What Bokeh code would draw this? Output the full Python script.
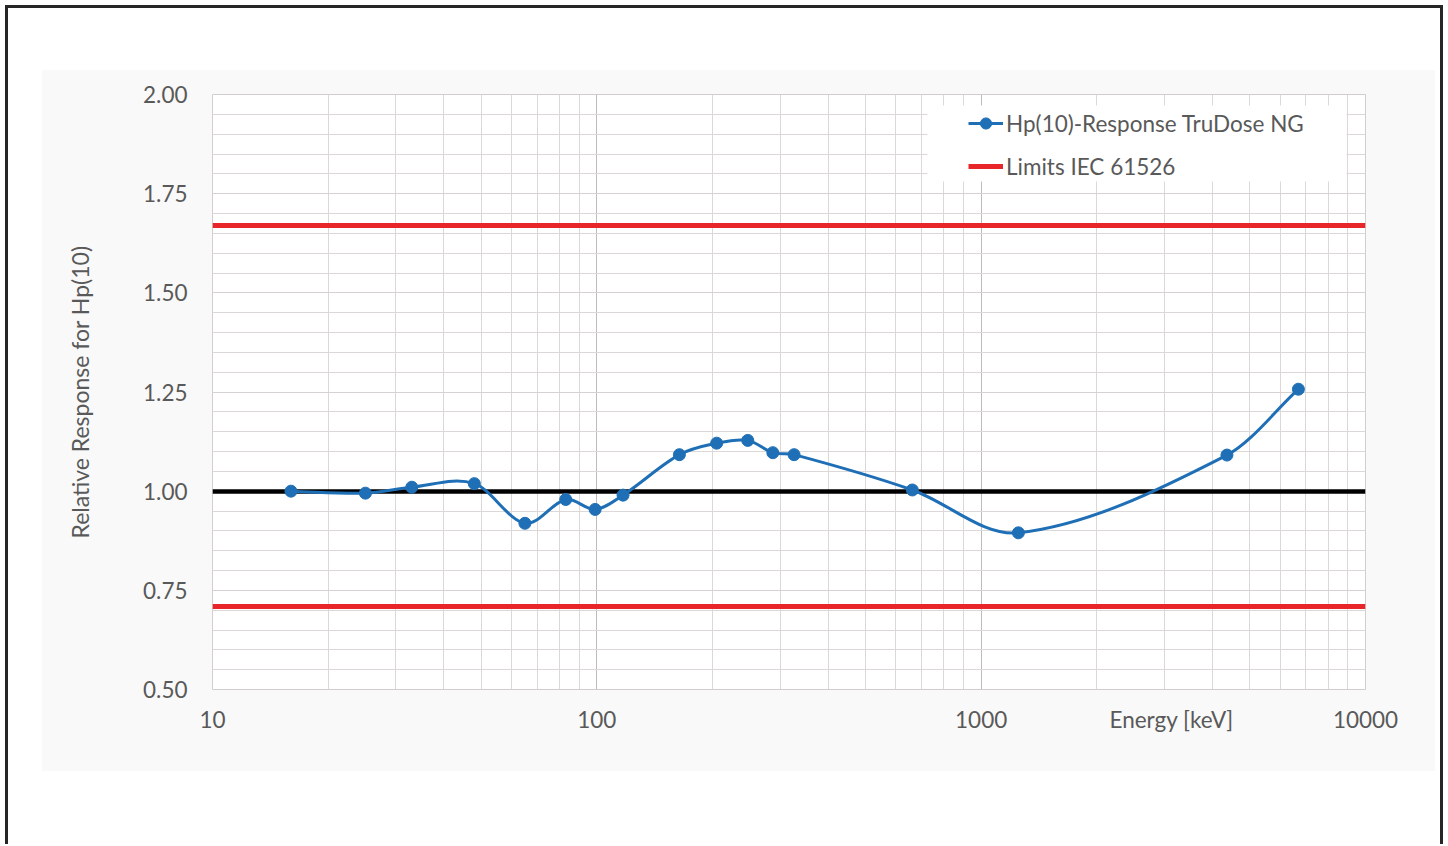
import numpy as np
from bokeh.plotting import figure
from bokeh.models import (FixedTicker, PrintfTickFormatter, BoxAnnotation,
                          Legend, LegendItem, ColumnDataSource)
from bokeh.embed import file_html
from bokeh.resources import INLINE

# ---------------- data ----------------
energy_kev = [16, 25, 33, 48, 65, 83, 99, 117, 164, 205, 247, 287, 326, 662, 1250, 4360, 6690]
response = [1.000, 0.995, 1.010, 1.019, 0.919, 0.979, 0.954, 0.990, 1.092, 1.121,
            1.128, 1.097, 1.092, 1.003, 0.895, 1.091, 1.257]
iec_limits = [0.71, 1.67]
reference_level = [1.00]
series_label = "Hp(10)-Response TruDose NG"
limits_label = "Limits IEC 61526"
x_ticks = [10, 100, 1000, 10000]
y_ticks = [0.50, 0.75, 1.00, 1.25, 1.50, 1.75, 2.00]
x_title = "Energy [keV]"
x_title_at = 3130          # where the axis title sits along the axis
y_title = "Relative Response for Hp(10)"

BLUE = "#1f6fb6"
RED = "#e8262a"
TXT = "#595959"
FONT = "Lato"
FS = "22.5px"

# ------------- smooth curve as bezier segments (log-x space, hermite) -------------
lx = np.log10(np.array(energy_kev, dtype=float))
yy = np.array(response, dtype=float)
n = len(lx)
h = np.diff(lx)
slopes = np.zeros(n)
for i in range(n):
    a = max(i - 1, 0)
    b = min(i + 1, n - 1)
    slopes[i] = (yy[b] - yy[a]) / (lx[b] - lx[a])
x0 = lx[:-1]; x1 = lx[1:]
y0 = yy[:-1]; y1 = yy[1:]
cx0 = x0 + h / 3.0
cx1 = x1 - h / 3.0
cy0 = y0 + slopes[:-1] * h / 3.0
cy1 = y1 - slopes[1:] * h / 3.0
bez = ColumnDataSource(dict(x0=10 ** x0, y0=y0, x1=10 ** x1, y1=y1,
                            cx0=10 ** cx0, cy0=cy0, cx1=10 ** cx1, cy1=cy1))

# ---------------- figure ----------------
W, H = 1446, 844
p = figure(width=W, height=H, x_axis_type="log", x_range=(10, 10000), y_range=(0.5, 2.0),
           output_backend="svg", toolbar_location=None,
           min_border_left=212, min_border_right=W - 1365, min_border_top=94, min_border_bottom=H - 689)
p.border_fill_color = None
p.background_fill_color = "white"
p.outline_line_color = "#d2cece"
p.outline_line_width = 1

# page frame + light grey panel drawn as host-element backgrounds
p.styles = {
    "background-color": "white",
    "background-image": ("linear-gradient(#262626,#262626), linear-gradient(#262626,#262626), "
                         "linear-gradient(#262626,#262626), linear-gradient(#f9f9f9,#f9f9f9)"),
    "background-position": "5px 5px, 5px 5px, 1440px 5px, 42px 70px",
    "background-size": "3px 1000px, 1438px 3px, 3px 1000px, 1393px 701px",
    "background-repeat": "no-repeat",
}

# axes
minor_x = [m * 10 ** d for d in range(1, 4) for m in range(2, 10)]
minor_y = [round(0.5 + 0.05 * k, 2) for k in range(31)]
p.xaxis.ticker = FixedTicker(ticks=x_ticks + [x_title_at], minor_ticks=[])
p.xgrid.ticker = FixedTicker(ticks=x_ticks, minor_ticks=minor_x)
p.yaxis.ticker = FixedTicker(ticks=y_ticks, minor_ticks=minor_y)
p.xaxis.formatter = PrintfTickFormatter(format="%d")
p.xaxis.major_label_overrides = {x_title_at: x_title}
p.yaxis.formatter = PrintfTickFormatter(format="%.2f")
for ax in (p.xaxis, p.yaxis):
    ax.axis_line_color = None
    ax.major_tick_line_color = None
    ax.minor_tick_line_color = None
    ax.major_tick_out = 0
    ax.major_label_text_font = FONT
    ax.major_label_text_font_size = FS
    ax.major_label_text_color = TXT
p.yaxis.major_label_standoff = 21
p.xaxis.major_label_standoff = 16
p.yaxis.axis_label = y_title
p.yaxis.axis_label_text_font = FONT
p.yaxis.axis_label_text_font_size = "23px"
p.yaxis.axis_label_text_font_style = "normal"
p.yaxis.axis_label_text_color = TXT
p.yaxis.axis_label_standoff = 46

p.xgrid.grid_line_color = "#bfbbbb"
p.xgrid.minor_grid_line_color = "#dcd8d8"
p.ygrid.grid_line_color = "#d6d2d2"
p.ygrid.minor_grid_line_color = "#dcd8d8"

# legend white area
leg_bg = BoxAnnotation(left=715, right=1134, top=584, bottom=508,
                       left_units="screen", right_units="screen", top_units="screen", bottom_units="screen",
                       fill_color="white", fill_alpha=1.0, line_color=None, level="underlay")
p.add_layout(leg_bg)

# ---------------- glyphs ----------------
red_r = p.hspan(y=iec_limits, line_color=RED, line_width=5)
p.hspan(y=reference_level, line_color="black", line_width=4.5)
p.bezier(x0="x0", y0="y0", x1="x1", y1="y1", cx0="cx0", cy0="cy0", cx1="cx1", cy1="cy1",
         source=bez, line_color=BLUE, line_width=3)
sc = p.scatter(energy_kev, response, size=12, fill_color=BLUE, line_color=BLUE)

# one-point lines (draw nothing on the plot) used only as legend swatches
leg_blue = p.line(x=energy_kev[:1], y=response[:1], line_color=BLUE, line_width=3)
leg_red = p.line(x=energy_kev[:1], y=iec_limits[:1], line_color=RED, line_width=5)

legend = Legend(items=[LegendItem(label=series_label, renderers=[leg_blue, sc]),
                       LegendItem(label=limits_label, renderers=[leg_red])],
                location=(756, 509), padding=0, margin=0, spacing=15,
                glyph_width=35, glyph_height=28, label_standoff=3,
                label_text_font=FONT, label_text_font_size=FS, label_text_color=TXT,
                background_fill_alpha=0, border_line_color=None)
p.add_layout(legend)

open("out.html", "w").write(file_html(p, INLINE))
